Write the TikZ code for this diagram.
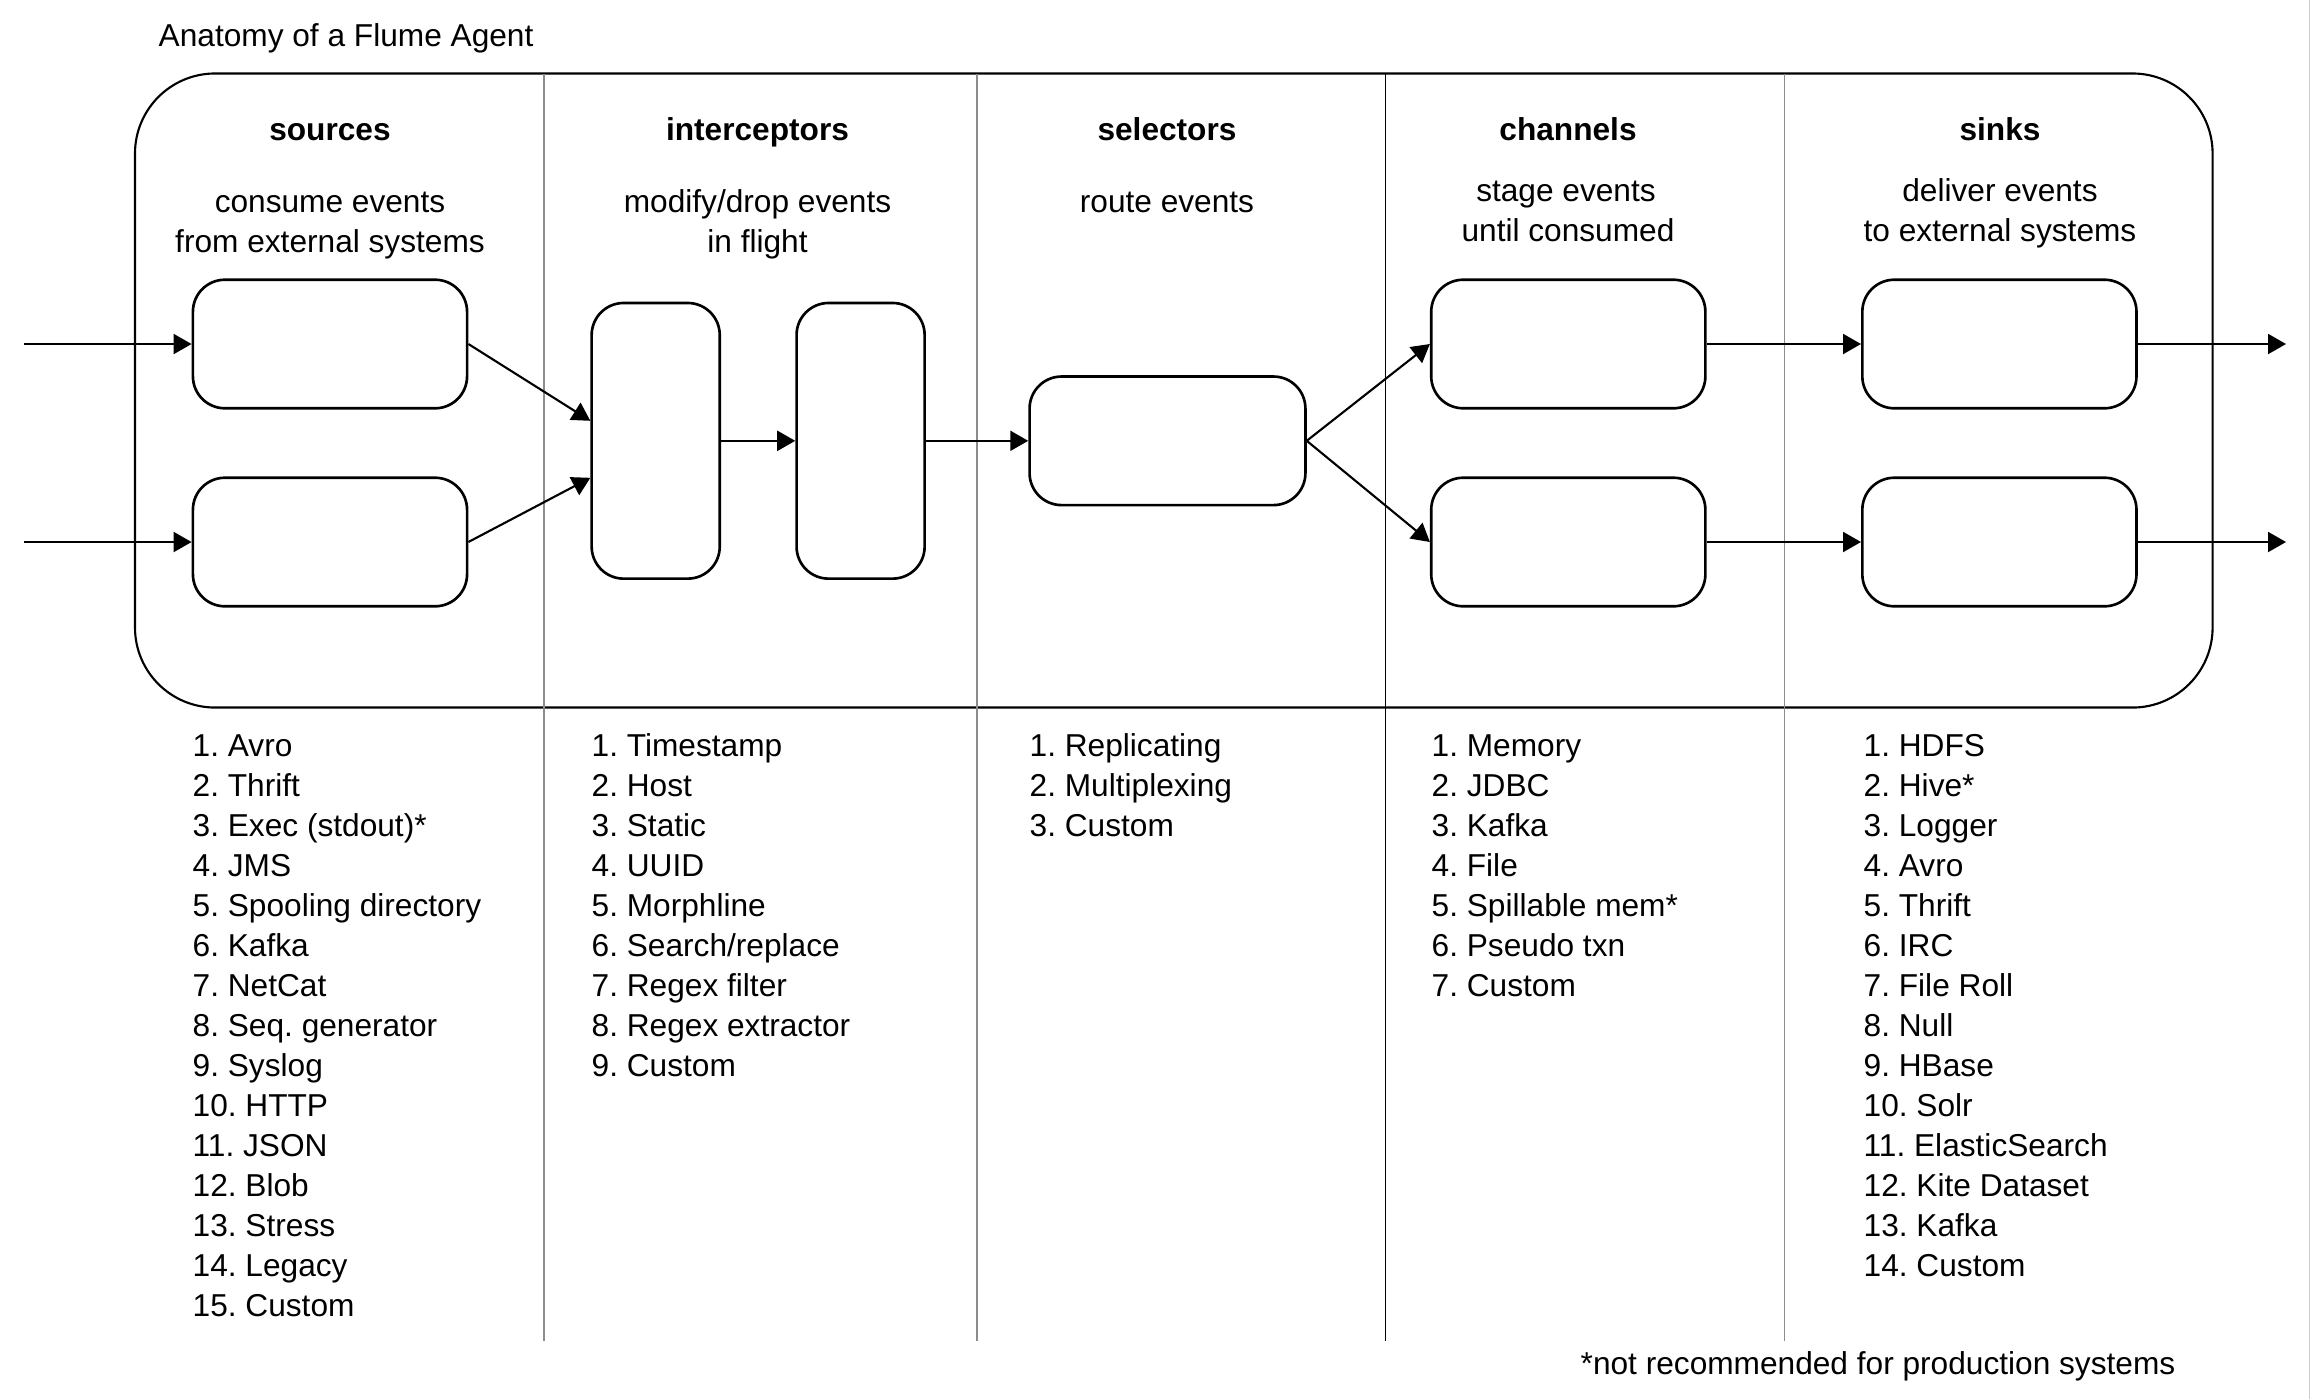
\documentclass[tikz,border=0pt]{standalone}
\usepackage{fontspec}
\setmainfont{Liberation Sans}
\usetikzlibrary{arrows.meta,calc}
\newcommand\mfnt{\fontsize{9pt}{11pt}\selectfont\frenchspacing}
\begin{document}
\begin{tikzpicture}[x=0.01cm,y=-0.01cm,
  box/.style={draw,line width=0.75pt,rounded corners=0.32cm,inner sep=0pt},
  hbox/.style={box,minimum width=2.74cm,minimum height=1.285cm},
  vbox/.style={box,minimum width=1.28cm,minimum height=2.755cm},
  arr/.style={line width=0.6pt,-{Triangle[length=0.18cm,width=0.2cm]}},
  divline/.style={line width=0.45pt,draw=black!45},
  hdr/.style={font=\mfnt\bfseries,anchor=base,inner sep=0pt},
  sub/.style={font=\mfnt,anchor=base,inner sep=0pt},
  item/.style={font=\mfnt,anchor=base west,inner sep=0pt}]
\useasboundingbox (0,0) rectangle (2311,1399);
\draw[black!20,line width=0.4pt] (2309.5,0) -- (2309.5,1399);
% title
\node[item] (title) at (158,46.5) {Anatomy of a Flume Agent};
% outer agent frame
\node[draw,line width=0.6pt,rounded corners=0.8cm,minimum width=20.764cm,minimum height=6.337cm,inner sep=0pt] (agent) at (1173.8,390.5) {};
% dividers
\draw[divline] (543.8,73.7) -- (543.8,1341);
\draw[divline] (977.1,73.7) -- (977.1,1341);
\draw[line width=0.5pt,draw=black] (1385.4,73.7) -- (1385.4,1341);
\draw[divline] (1784.5,73.7) -- (1784.5,1341);
% headers
\node[hdr] (hsrc) at (330,140) {sources};
\node[hdr] (hint) at (757.5,140) {interceptors};
\node[hdr] (hsel) at (1167,140) {selectors};
\node[hdr] (hch) at (1568,140) {channels};
\node[hdr] (hsk) at (2000,140) {sinks};
% subtitles
\node[sub] (ssrc1) at (330,212.5) {consume events};
\node[sub] (ssrc2) at (330,252.5) {from external systems};
\node[sub] (sint1) at (757.5,212.5) {modify/drop events};
\node[sub] (sint2) at (757.5,252.5) {in flight};
\node[sub] (ssel1) at (1167,212.5) {route events};
\node[sub] (sch1) at (1566,201.5) {stage events};
\node[sub] (sch2) at (1568,241.5) {until consumed};
\node[sub] (ssk1) at (2000,201.5) {deliver events};
\node[sub] (ssk2) at (2000,241.5) {to external systems};
% boxes
\node[hbox] (s1) at (330,344) {};
\node[hbox] (s2) at (330,542) {};
\node[vbox] (i1) at (655.7,440.8) {};
\node[vbox] (i2) at (860.6,440.8) {};
\node[hbox,minimum width=2.757cm] (sel) at (1167.5,440.8) {};
\node[hbox] (c1) at (1568.3,344) {};
\node[hbox] (c2) at (1568.3,542) {};
\node[hbox] (k1) at (1999.4,344) {};
\node[hbox] (k2) at (1999.4,542) {};
% free ends
\coordinate (in1) at (23.7,344);
\coordinate (in2) at (23.7,542);
\coordinate (out1) at (2286,344);
\coordinate (out2) at (2286,542);
% connectors
\draw[arr] (in1) -- (s1);
\draw[arr] (in2) -- (s2);
\draw[arr] (s1.east) -- ($(i1.west)+(0,-20)$);
\draw[arr] (s2.east) -- ($(i1.west)+(0,37)$);
\draw[arr] (i1) -- (i2);
\draw[arr] (i2) -- (sel);
\draw[arr] (sel.east) -- (c1.west);
\draw[arr] (sel.east) -- (c2.west);
\draw[arr] (c1) -- (k1);
\draw[arr] (c2) -- (k2);
\draw[arr] (k1) -- (out1);
\draw[arr] (k2) -- (out2);
% lists
\foreach \txt [count=\i] in {Avro,Thrift,{Exec (stdout)*},JMS,{Spooling directory},Kafka,NetCat,{Seq. generator},Syslog,HTTP,JSON,Blob,Stress,Legacy,Custom}
  \node[item] (srcitem\i) at (192,{756+40*(\i-1)}) {\i. \txt};
\foreach \txt [count=\i] in {Timestamp,Host,Static,UUID,Morphline,{Search/replace},{Regex filter},{Regex extractor},Custom}
  \node[item] (intitem\i) at (591,{756+40*(\i-1)}) {\i. \txt};
\foreach \txt [count=\i] in {Replicating,Multiplexing,Custom}
  \node[item] (selitem\i) at (1029,{756+40*(\i-1)}) {\i. \txt};
\foreach \txt [count=\i] in {Memory,JDBC,Kafka,File,{Spillable mem*},{Pseudo txn},Custom}
  \node[item] (chitem\i) at (1431,{756+40*(\i-1)}) {\i. \txt};
\foreach \txt [count=\i] in {HDFS,Hive*,Logger,Avro,Thrift,IRC,{File Roll},Null,HBase,Solr,ElasticSearch,{Kite Dataset},Kafka,Custom}
  \node[item] (skitem\i) at (1863,{756+40*(\i-1)}) {\i. \txt};
% footnote
\node[font=\mfnt,anchor=base east,inner sep=0pt] (foot) at (2176,1374) {*not recommended for production systems};
\end{tikzpicture}
\end{document}
